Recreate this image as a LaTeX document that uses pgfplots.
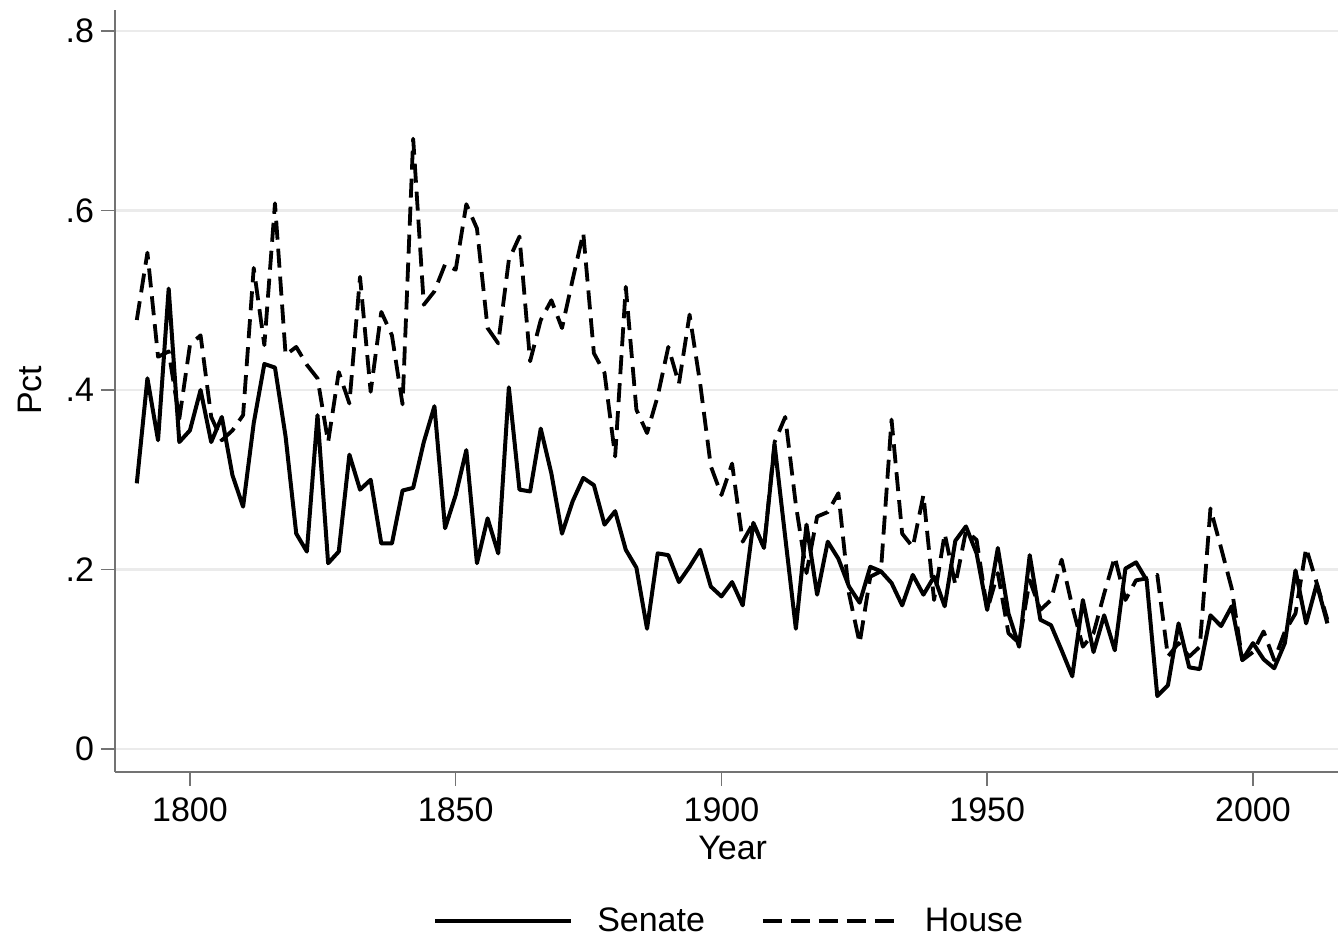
\documentclass[border=0pt]{standalone}
\usepackage{fontspec}
\setmainfont{Liberation Sans}
\usepackage{pgfplots}
\pgfplotsset{compat=1.18}
\newcommand\fs{\fontsize{17}{20}\selectfont}
\pgfplotstableread{
year senate house
1790 0.296 0.478
1792 0.413 0.553
1794 0.344 0.437
1796 0.513 0.443
1798 0.342 0.368
1800 0.355 0.450
1802 0.400 0.461
1804 0.342 0.370
1806 0.370 0.344
1808 0.305 0.355
1810 0.270 0.372
1812 0.363 0.536
1814 0.429 0.450
1816 0.425 0.608
1818 0.348 0.439
1820 0.240 0.448
1822 0.220 0.428
1824 0.372 0.413
1826 0.207 0.342
1828 0.220 0.420
1830 0.328 0.385
1832 0.289 0.526
1834 0.300 0.398
1836 0.229 0.487
1838 0.229 0.461
1840 0.288 0.384
1842 0.291 0.680
1844 0.342 0.495
1846 0.382 0.510
1848 0.246 0.540
1850 0.283 0.534
1852 0.333 0.607
1854 0.207 0.580
1856 0.257 0.469
1858 0.218 0.452
1860 0.403 0.545
1862 0.289 0.571
1864 0.287 0.432
1866 0.357 0.478
1868 0.307 0.500
1870 0.240 0.469
1872 0.276 0.523
1874 0.302 0.575
1876 0.294 0.441
1878 0.250 0.419
1880 0.265 0.326
1882 0.222 0.515
1884 0.202 0.378
1886 0.134 0.352
1888 0.218 0.393
1890 0.216 0.448
1892 0.186 0.407
1894 0.203 0.484
1896 0.222 0.407
1898 0.181 0.315
1900 0.170 0.283
1902 0.186 0.318
1904 0.160 0.231
1906 0.252 0.252
1908 0.224 0.224
1910 0.339 0.342
1912 0.236 0.370
1914 0.134 0.272
1916 0.250 0.196
1918 0.172 0.259
1920 0.231 0.264
1922 0.212 0.285
1924 0.181 0.173
1926 0.163 0.118
1928 0.203 0.192
1930 0.198 0.198
1932 0.185 0.367
1934 0.160 0.240
1936 0.194 0.225
1938 0.172 0.283
1940 0.192 0.166
1942 0.159 0.240
1944 0.232 0.183
1946 0.248 0.243
1948 0.218 0.233
1950 0.155 0.155
1952 0.224 0.196
1954 0.151 0.129
1956 0.114 0.118
1958 0.216 0.188
1960 0.144 0.155
1962 0.138 0.166
1964 0.110 0.211
1966 0.081 0.159
1968 0.166 0.114
1970 0.108 0.129
1972 0.149 0.173
1974 0.110 0.214
1976 0.201 0.166
1978 0.208 0.188
1980 0.188 0.190
1982 0.059 0.194
1984 0.071 0.103
1986 0.140 0.118
1988 0.091 0.103
1990 0.089 0.114
1992 0.149 0.268
1994 0.137 0.224
1996 0.159 0.179
1998 0.099 0.099
2000 0.118 0.108
2002 0.100 0.131
2004 0.090 0.099
2006 0.118 0.131
2008 0.199 0.151
2010 0.140 0.224
2012 0.184 0.185
2014 0.140 0.144
}\datatable
\begin{document}
\begin{tikzpicture}
\begin{axis}[
  name=ax, at={(0pt,0pt)}, anchor=south west,
  scale only axis, width=611.5pt, height=381pt,
  xmin=1785.9, xmax=2016, ymin=-0.0256, ymax=0.8234,
  axis x line*=bottom, axis y line*=left,
  axis line style={-, color=black!55, line width=0.8pt},
  xtick={1800,1850,1900,1950,2000},
  xticklabels={1800,1850,1900,1950,2000},
  ytick={0,0.2,0.4,0.6,0.8},
  yticklabels={0,.2,.4,.6,.8},
  tick align=outside, major tick length=7pt,
  tick style={color=black!55, line width=0.8pt},
  ymajorgrids, grid style={color=black!8, line width=1.4pt},
  ticklabel style={font=\fs},
  xticklabel style={yshift=-2.5pt},
  /pgf/number format/assume math mode=true,
  xlabel={Year}, ylabel={Pct},
  label style={font=\fs},
  xlabel style={at={(axis description cs:0.505,-0.0997)}, anchor=center},
  ylabel style={at={(axis description cs:-0.0695,0.501)}, anchor=center, rotate=0},
  legend columns=2,
  legend style={at={(axis description cs:0.503,-0.1955)}, anchor=center,
    draw=none, fill=none, font=\fs,
    /tikz/every odd column/.append style={column sep=10pt},
    /tikz/every even column/.append style={column sep=26pt}},
  legend image code/.code={\draw[#1] (0pt,0pt) -- (68pt,0pt);},
]
\addplot[black, line width=2pt, line join=round] table[x=year, y=senate] {\datatable};
\addlegendentry{Senate}
\addplot[black, line width=1.9pt, line join=round, dash pattern=on 9.5pt off 4.5pt] table[x=year, y=house] {\datatable};
\addlegendentry{House}
\end{axis}
\pgfresetboundingbox
\path[use as bounding box] (-57.5pt,-84.5pt) rectangle (611.5pt,386pt);
\end{tikzpicture}
\end{document}
